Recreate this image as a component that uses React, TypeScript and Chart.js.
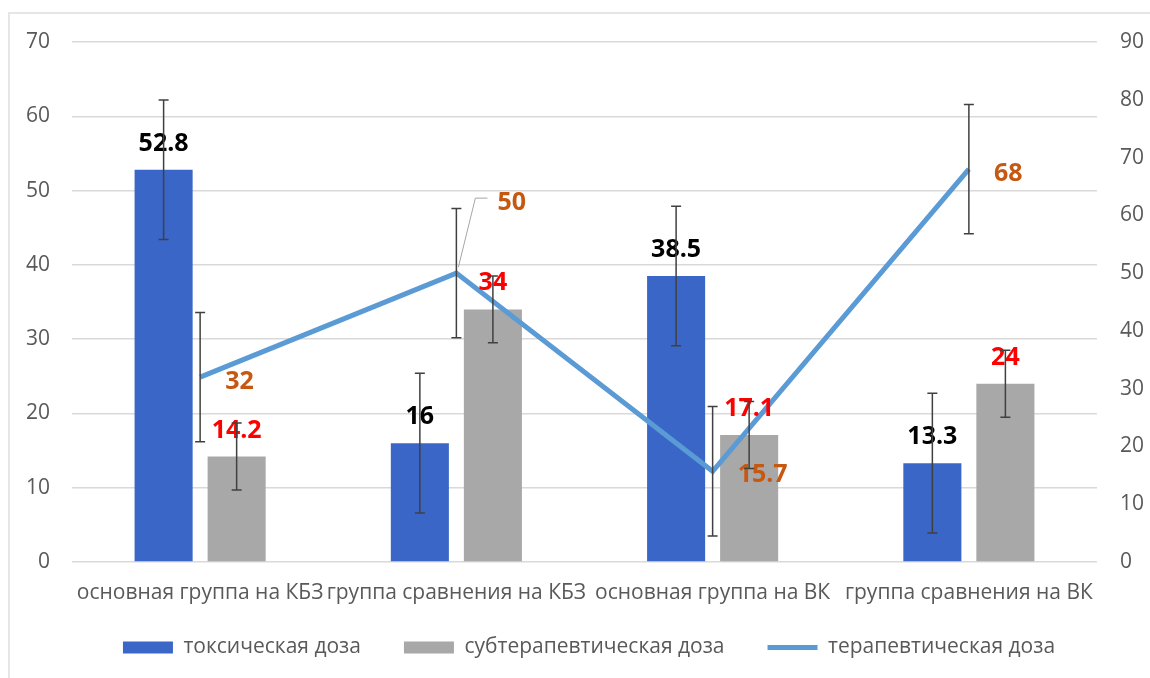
import React, { useEffect, useRef } from 'react';
import { Chart, registerables } from 'chart.js';

Chart.register(...registerables);

const categories = [
  'основная группа на КБЗ',
  'группа сравнения на КБЗ',
  'основная группа на ВК',
  'группа сравнения на ВК',
];
const seriesNames = ['токсическая доза', 'субтерапевтическая доза', 'терапевтическая доза'];
const toxicDose = [52.8, 16, 38.5, 13.3];
const toxicErr = [9.4, 9.4, 9.4, 9.4];
const subDose = [14.2, 34, 17.1, 24];
const subErr = [4.5, 4.5, 4.5, 4.5];
const therDose = [32, 50, 15.7, 68];
const therErr = [11.2, 11.2, 11.2, 11.2];
const leftAxis = { min: 0, max: 70, step: 10 };
const rightAxis = { min: 0, max: 90, step: 10 };

// label placement (styling) for the line's value labels: [dx, dy, leader]
const lineLabelOffsets = [
  [25, 12, false],
  [41, -63, true],
  [25, 11, false],
  [25, 12, false],
];

const FONT = '"Open Sans", "Noto Sans", sans-serif';
const TEXT = '#595959';

const overlayPlugin = {
  id: 'overlay',
  afterLayout(chart: any) {
    if (chart.scales.x) chart.scales.x._computeLabelArea = () => undefined;
    if (chart.legend) {
      chart.legend.left += 14;
      chart.legend.right += 14;
    }
  },
  afterDatasetsDraw(chart: any) {
    const ctx = chart.ctx;
    const y = chart.scales.y;
    const y1 = chart.scales.y1;
    const m0 = chart.getDatasetMeta(0).data;
    const m1 = chart.getDatasetMeta(1).data;
    const m2 = chart.getDatasetMeta(2).data;
    ctx.save();
    ctx.font = `bold 25px ${FONT}`;
    ctx.textBaseline = 'alphabetic';
    ctx.textAlign = 'center';
    m0.forEach((el: any, i: number) => {
      ctx.fillStyle = '#000000';
      ctx.fillText(String(toxicDose[i]), el.x, el.y - 19);
    });
    m1.forEach((el: any, i: number) => {
      ctx.fillStyle = '#FF0000';
      ctx.fillText(String(subDose[i]), el.x, el.y - 19);
    });
    ctx.textAlign = 'left';
    m2.forEach((el: any, i: number) => {
      const [dx, dy, leader] = lineLabelOffsets[i] as [number, number, boolean];
      if (leader) {
        ctx.strokeStyle = '#A6A6A6';
        ctx.lineWidth = 1;
        ctx.beginPath();
        ctx.moveTo(el.x + 2, el.y - 6);
        ctx.lineTo(el.x + 19, el.y - 75);
        ctx.lineTo(el.x + 31, el.y - 75);
        ctx.stroke();
      }
      ctx.fillStyle = '#C65911';
      ctx.fillText(String(therDose[i]), el.x + dx, el.y + dy);
    });
    ctx.strokeStyle = '#404040';
    ctx.lineWidth = 1.5;
    const cap = 5;
    const drawErr = (x: number, top: number, bot: number) => {
      ctx.beginPath();
      ctx.moveTo(x, top);
      ctx.lineTo(x, bot);
      ctx.moveTo(x - cap, top);
      ctx.lineTo(x + cap, top);
      ctx.moveTo(x - cap, bot);
      ctx.lineTo(x + cap, bot);
      ctx.stroke();
    };
    m0.forEach((el: any, i: number) => {
      drawErr(el.x, y.getPixelForValue(toxicDose[i] + toxicErr[i]), y.getPixelForValue(toxicDose[i] - toxicErr[i]));
    });
    m1.forEach((el: any, i: number) => {
      drawErr(el.x, y.getPixelForValue(subDose[i] + subErr[i]), y.getPixelForValue(subDose[i] - subErr[i]));
    });
    m2.forEach((el: any, i: number) => {
      drawErr(el.x, y1.getPixelForValue(therDose[i] + therErr[i]), y1.getPixelForValue(therDose[i] - therErr[i]));
    });
    ctx.restore();
  },
};

export default function App() {
  const ref = useRef<HTMLCanvasElement>(null);
  useEffect(() => {
    if (!ref.current) return;
    const tickFont = { family: FONT, size: 21 };
    const chart = new Chart(ref.current, {
      type: 'bar',
      data: {
        labels: categories,
        datasets: [
          {
            type: 'bar',
            label: seriesNames[0],
            data: toxicDose,
            backgroundColor: '#3A67C7',
            yAxisID: 'y',
            order: 1,
            categoryPercentage: 0.57,
            barPercentage: 0.795,
          },
          {
            type: 'bar',
            label: seriesNames[1],
            data: subDose,
            backgroundColor: '#A8A8A8',
            yAxisID: 'y',
            order: 1,
            categoryPercentage: 0.57,
            barPercentage: 0.795,
          },
          {
            type: 'line',
            label: seriesNames[2],
            data: therDose,
            borderColor: '#5B9BD5',
            backgroundColor: '#5B9BD5',
            borderWidth: 5,
            pointRadius: 0,
            pointHoverRadius: 0,
            pointStyle: 'line',
            tension: 0,
            yAxisID: 'y1',
            order: 0,
          },
        ] as any,
      },
      options: {
        animation: false,
        responsive: false,
        events: [],
        layout: { padding: { top: 42, bottom: 10, left: 0, right: 0 } },
        scales: {
          x: {
            grid: { display: false, drawTicks: false },
            border: { display: false },
            ticks: { font: tickFont, color: TEXT, padding: 18, maxRotation: 0, minRotation: 0, autoSkip: false },
            afterFit: (s: any) => { s.height = 32; },
          },
          y: {
            position: 'left',
            min: leftAxis.min,
            max: leftAxis.max,
            ticks: { stepSize: leftAxis.step, font: tickFont, color: TEXT, padding: 22 },
            grid: { color: '#D9D9D9', lineWidth: 1.5, drawTicks: false },
            border: { display: false },
            afterFit: (s: any) => { s.width = 72; },
          },
          y1: {
            position: 'right',
            min: rightAxis.min,
            max: rightAxis.max,
            ticks: { stepSize: rightAxis.step, font: tickFont, color: TEXT, padding: 23 },
            grid: { display: false, drawTicks: false },
            border: { display: false },
            afterFit: (s: any) => { s.width = 53; },
          },
        },
        plugins: {
          tooltip: { enabled: false },
          legend: {
            position: 'bottom',
            labels: {
              font: tickFont,
              color: TEXT,
              usePointStyle: true,
              pointStyleWidth: 50,
              boxHeight: 12,
              padding: 43,
              sort: (a: any, b: any) => a.datasetIndex - b.datasetIndex,
              generateLabels: (c: any) => {
                const items = (Chart as any).defaults.plugins.legend.labels.generateLabels(c);
                items.forEach((it: any) => {
                  it.pointStyle = it.datasetIndex === 2 ? 'line' : 'rect';
                });
                return items;
              },
            },
          },
        },
      } as any,
      plugins: [overlayPlugin],
    });
    return () => chart.destroy();
  }, []);

  return (
    <div style={{ position: 'fixed', left: 0, top: 0, width: 1150, height: 678, background: '#fff', overflow: 'hidden' }}>
      <div
        style={{
          position: 'absolute',
          left: 8,
          top: 12,
          width: 1300,
          height: 800,
          borderTop: '2px solid #E6E6E6',
          borderLeft: '2px solid #E6E6E6',
        }}
      />
      <canvas ref={ref} width={1150} height={678} style={{ position: 'absolute', left: 0, top: 0 }} />
    </div>
  );
}
